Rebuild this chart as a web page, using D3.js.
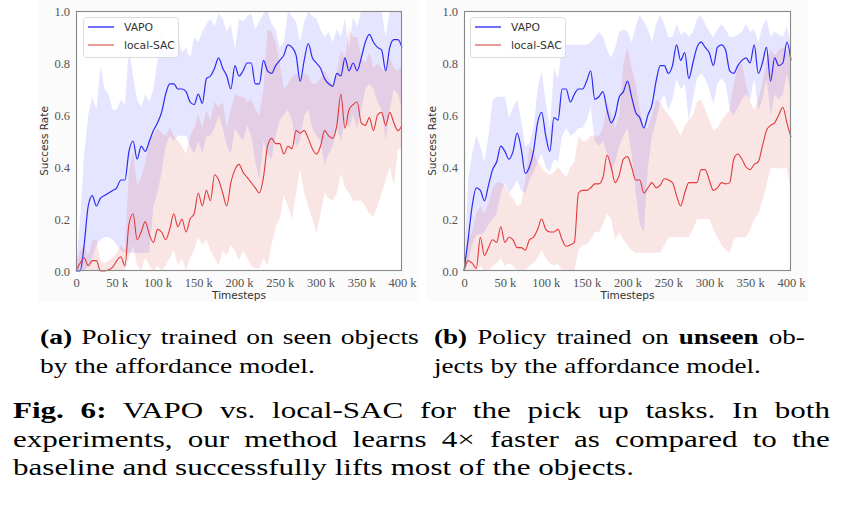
<!DOCTYPE html>
<html>
<head>
<meta charset="utf-8">
<script src="https://cdn.jsdelivr.net/npm/d3@7/dist/d3.min.js"></script>
<style>
  body { margin: 0; background: white; }
  svg { display: block; }
</style>
</head>
<body>
<div id="vis"></div>
<script>
// values, timesteps in thousands

let timesteps = [0, 5, 10, 15, 20, 25, 30, 35, 40, 45,
  50, 55, 60, 65, 70, 75, 80, 85, 90, 95,
  100, 105, 110, 115, 120, 125, 130, 135, 140, 145,
  150, 155, 160, 165, 170, 175, 180, 185, 190, 195,
  200, 205, 210, 215, 220, 225, 230, 235, 240, 245,
  250, 255, 260, 265, 270, 275, 280, 285, 290, 295,
  300, 305, 310, 315, 320, 325, 330, 335, 340, 345,
  350, 355, 360, 365, 370, 375, 380, 385, 390, 395,
  400];

// (a) seen objects
let vapoSeen = [0, 0, 0.10, 0.25, 0.29, 0.25, 0.28, 0.29, 0.30, 0.31,
  0.32, 0.35, 0.35, 0.46, 0.50, 0.43, 0.48, 0.46, 0.50, 0.54,
  0.57, 0.61, 0.68, 0.72, 0.72, 0.70, 0.70, 0.69, 0.65, 0.64,
  0.68, 0.645, 0.74, 0.75, 0.78, 0.82, 0.78, 0.75, 0.70, 0.79,
  0.75, 0.77, 0.80, 0.80, 0.72, 0.72, 0.81, 0.77, 0.76, 0.79,
  0.81, 0.83, 0.87, 0.86, 0.83, 0.73, 0.81, 0.875, 0.82, 0.80,
  0.78, 0.74, 0.72, 0.71, 0.76, 0.75, 0.82, 0.77, 0.80, 0.77,
  0.82, 0.88, 0.91, 0.88, 0.86, 0.85, 0.77, 0.86, 0.89, 0.89,
  0.86];
let vapoSeenLow = [0, 0, 0, 0.02, 0.05, 0.10, 0.12, 0.13, 0.13, 0.12,
  0.10, 0.08, 0.07, 0.07, 0.07, 0.07, 0.07, 0.07, 0.07, 0.25,
  0.30, 0.38, 0.48, 0.52, 0.50, 0.52, 0.52, 0.52, 0.48, 0.45,
  0.50, 0.45, 0.52, 0.52, 0.55, 0.60, 0.55, 0.48, 0.45, 0.55,
  0.52, 0.50, 0.56, 0.52, 0.42, 0.35, 0.50, 0.45, 0.43, 0.52,
  0.58, 0.60, 0.62, 0.58, 0.48, 0.50, 0.60, 0.62, 0.55, 0.52,
  0.50, 0.41, 0.45, 0.48, 0.55, 0.50, 0.58, 0.55, 0.60, 0.55,
  0.62, 0.70, 0.72, 0.70, 0.65, 0.62, 0.50, 0.62, 0.70, 0.68,
  0.62];
let vapoSeenHigh = [0, 0.20, 0.45, 0.60, 0.67, 0.62, 0.79, 0.70, 0.68, 0.62,
  0.62, 0.66, 0.64, 0.86, 0.75, 0.66, 0.63, 0.68, 0.65, 0.70,
  0.81, 0.93, 0.85, 0.84, 0.88, 0.90, 0.84, 0.86, 0.82, 0.90,
  0.88, 0.92, 0.95, 0.97, 0.94, 0.99, 0.97, 0.92, 0.95, 0.85,
  0.97, 0.96, 0.98, 0.99, 0.93, 0.96, 0.99, 1.0, 0.95, 0.93,
  0.86, 0.88, 1.0, 0.98, 0.96, 0.88, 0.96, 1.0, 0.98, 0.97,
  0.93, 0.90, 0.92, 0.88, 0.93, 0.90, 0.97, 0.86, 0.98, 0.94,
  1.0, 1.0, 1.0, 1.0, 1.0, 1.0, 0.90, 1.0, 1.0, 1.0,
  1.0];
let sacSeen = [0, 0.03, 0.05, 0.02, 0.04, 0.04, 0.0, 0.0, 0.005, 0.015,
  0.04, 0.055, 0.02, 0.18, 0.22, 0.12, 0.15, 0.19, 0.14, 0.11,
  0.16, 0.15, 0.12, 0.16, 0.22, 0.17, 0.20, 0.15, 0.20, 0.22,
  0.30, 0.25, 0.31, 0.27, 0.37, 0.35, 0.30, 0.25, 0.34, 0.39,
  0.41, 0.38, 0.36, 0.34, 0.32, 0.30, 0.36, 0.48, 0.51, 0.49,
  0.49, 0.45, 0.48, 0.47, 0.54, 0.53, 0.54, 0.51, 0.47, 0.45,
  0.48, 0.54, 0.52, 0.51, 0.56, 0.68, 0.55, 0.62, 0.64, 0.65,
  0.57, 0.56, 0.59, 0.54, 0.60, 0.61, 0.56, 0.61, 0.57, 0.54,
  0.56];
let sacSeenLow = [0, 0, 0, 0, 0, 0, 0, 0, 0, 0,
  0, 0, 0, 0.05, 0.10, 0.02, 0, 0.05, 0.02, 0,
  0.02, 0, 0.02, 0.05, 0.08, 0.02, 0.05, 0, 0.05, 0.08,
  0.13, 0.10, 0.12, 0.08, 0.05, 0.02, 0.08, 0.06, 0.10, 0.08,
  0.04, 0.08, 0.05, 0.02, 0.01, 0.01, 0.05, 0.02, 0.10, 0.17,
  0.20, 0.29, 0.25, 0.20, 0.30, 0.39, 0.30, 0.25, 0.20, 0.145,
  0.22, 0.30, 0.28, 0.27, 0.30, 0.375, 0.32, 0.30, 0.27, 0.27,
  0.27, 0.25, 0.22, 0.21, 0.25, 0.30, 0.35, 0.40, 0.33, 0.47,
  0.47];
let sacSeenHigh = [0.03, 0.08, 0.10, 0.06, 0.12, 0.12, 0.04, 0.03, 0.04, 0.05,
  0.07, 0.10, 0.08, 0.38, 0.46, 0.33, 0.36, 0.42, 0.50, 0.52,
  0.55, 0.53, 0.52, 0.55, 0.52, 0.50, 0.48, 0.45, 0.52, 0.55,
  0.60, 0.55, 0.62, 0.58, 0.65, 0.63, 0.65, 0.55, 0.62, 0.68,
  0.67, 0.67, 0.65, 0.66, 0.62, 0.60, 0.70, 0.93, 0.92, 0.88,
  0.80, 0.70, 0.72, 0.75, 0.76, 0.74, 0.76, 0.75, 0.72, 0.72,
  0.74, 0.77, 0.74, 0.72, 0.76, 0.85, 0.82, 0.93, 0.90, 0.90,
  0.82, 0.80, 0.84, 0.78, 0.80, 0.78, 0.76, 0.82, 0.78, 0.77,
  0.79];

// (b) unseen objects
let vapoUnseen = [0, 0.12, 0.25, 0.32, 0.31, 0.27, 0.33, 0.39, 0.42, 0.48,
  0.46, 0.43, 0.46, 0.53, 0.47, 0.375, 0.40, 0.46, 0.57, 0.61,
  0.52, 0.46, 0.59, 0.58, 0.70, 0.70, 0.65, 0.68, 0.70, 0.70,
  0.73, 0.77, 0.66, 0.67, 0.69, 0.62, 0.57, 0.60, 0.67, 0.69,
  0.73, 0.67, 0.61, 0.59, 0.55, 0.60, 0.64, 0.73, 0.79, 0.79,
  0.76, 0.79, 0.87, 0.81, 0.84, 0.74, 0.80, 0.86, 0.88, 0.86,
  0.84, 0.79, 0.86, 0.87, 0.85, 0.77, 0.76, 0.79, 0.81, 0.82,
  0.80, 0.87, 0.76, 0.80, 0.86, 0.73, 0.82, 0.79, 0.80, 0.88,
  0.81];
let vapoUnseenLow = [0, 0.03, 0.10, 0.14, 0.14, 0.15, 0.18, 0.20, 0.22, 0.30,
  0.34, 0.30, 0.32, 0.35, 0.31, 0.30, 0.35, 0.38, 0.42, 0.45,
  0.40, 0.38, 0.43, 0.42, 0.52, 0.55, 0.52, 0.53, 0.55, 0.55,
  0.58, 0.63, 0.50, 0.48, 0.50, 0.45, 0.38, 0.42, 0.48, 0.52,
  0.55, 0.45, 0.30, 0.18, 0.15, 0.40, 0.52, 0.58, 0.65, 0.68,
  0.62, 0.66, 0.74, 0.70, 0.72, 0.58, 0.66, 0.74, 0.76, 0.74,
  0.70, 0.64, 0.72, 0.74, 0.72, 0.62, 0.60, 0.63, 0.66, 0.68,
  0.66, 0.74, 0.62, 0.66, 0.74, 0.60, 0.68, 0.66, 0.68, 0.76,
  0.68];
let vapoUnseenHigh = [0, 0.35, 0.45, 0.52, 0.48, 0.42, 0.52, 0.66, 0.67, 0.67,
  0.67, 0.59, 0.63, 0.66, 0.58, 0.48, 0.49, 0.55, 0.70, 0.77,
  0.65, 0.55, 0.78, 0.74, 0.87, 0.87, 0.87, 0.87, 0.87, 0.87,
  0.87, 0.88, 0.90, 0.92, 0.90, 0.85, 0.82, 0.86, 0.92, 0.93,
  0.92, 0.88, 0.94, 0.985, 0.96, 0.93, 0.88, 0.95, 0.985, 0.95,
  0.90, 0.90, 0.95, 0.91, 0.92, 0.90, 0.92, 0.97, 0.985, 0.95,
  0.92, 0.90, 0.93, 0.95, 0.93, 0.90, 0.90, 0.91, 0.92, 0.95,
  0.92, 0.93, 0.88, 0.94, 0.97, 0.90, 0.92, 0.91, 0.90, 0.94,
  0.87];
let sacUnseen = [0, 0.04, 0.03, 0.01, 0.13, 0.06, 0.09, 0.12, 0.11, 0.17,
  0.11, 0.13, 0.12, 0.09, 0.09, 0.08, 0.12, 0.13, 0.16, 0.20,
  0.16, 0.15, 0.15, 0.16, 0.12, 0.095, 0.10, 0.11, 0.30, 0.31,
  0.31, 0.32, 0.335, 0.335, 0.36, 0.445, 0.40, 0.34, 0.37, 0.43,
  0.44, 0.40, 0.35, 0.35, 0.30, 0.32, 0.34, 0.32, 0.33, 0.355,
  0.35, 0.34, 0.29, 0.25, 0.30, 0.34, 0.34, 0.34, 0.39, 0.39,
  0.35, 0.31, 0.32, 0.34, 0.335, 0.34, 0.43, 0.45, 0.43, 0.40,
  0.39, 0.41, 0.42, 0.48, 0.54, 0.56, 0.57, 0.60, 0.63, 0.57,
  0.515];
let sacUnseenLow = [0, 0, 0, 0, 0.02, 0, 0, 0.02, 0.03, 0.05,
  0.02, 0.03, 0.02, 0, 0, 0, 0.02, 0.03, 0.05, 0.08,
  0.05, 0.03, 0.02, 0.03, 0, 0, 0, 0, 0.08, 0.10,
  0.10, 0.12, 0.15, 0.15, 0.18, 0.22, 0.20, 0.12, 0.15, 0.12,
  0.10, 0.08, 0.07, 0.07, 0.07, 0.07, 0.07, 0.07, 0.07, 0.10,
  0.13, 0.13, 0.13, 0.13, 0.13, 0.13, 0.16, 0.20, 0.20, 0.20,
  0.20, 0.16, 0.13, 0.10, 0.08, 0.07, 0.12, 0.13, 0.13, 0.13,
  0.16, 0.20, 0.22, 0.27, 0.33, 0.395, 0.395, 0.395, 0.395, 0.395,
  0.30];
let sacUnseenHigh = [0.02, 0.12, 0.15, 0.22, 0.25, 0.22, 0.26, 0.32, 0.34, 0.34,
  0.33, 0.30, 0.28, 0.25, 0.26, 0.35, 0.48, 0.46, 0.42, 0.40,
  0.38, 0.37, 0.38, 0.40, 0.38, 0.36, 0.40, 0.42, 0.52, 0.50,
  0.50, 0.52, 0.52, 0.52, 0.55, 0.65, 0.60, 0.55, 0.60, 0.80,
  0.86, 0.78, 0.72, 0.62, 0.55, 0.55, 0.60, 0.66, 0.65, 0.62,
  0.60, 0.58, 0.55, 0.52, 0.56, 0.58, 0.60, 0.65, 0.66, 0.62,
  0.58, 0.54, 0.55, 0.58, 0.60, 0.62, 0.72, 0.78, 0.80, 0.72,
  0.65, 0.62, 0.66, 0.72, 0.81, 0.85, 0.83, 0.85, 0.86, 0.85,
  0.83];

let seriesNames = ['VAPO', 'local-SAC'];
let yTicks = [0, 0.2, 0.4, 0.6, 0.8, 1.0];
let yTickLabels = ['0.0', '0.2', '0.4', '0.6', '0.8', '1.0'];
let xTicks = [0, 50, 100, 150, 200, 250, 300, 350, 400];
let xTickLabels = ['0', '50 k', '100 k', '150 k', '200 k', '250 k', '300 k', '350 k', '400 k'];

let blue = '#2b2bf4', red = '#e0393b';

let svg = d3.select('#vis')
  .append('svg')
  .attr('width', 846)
  .attr('height', 507)
  .style('background-color', 'white');

let panels = [
  { left: 76, right: 402, bgLeft: 38, bgRight: 420, legendX: 83,
    vapo: vapoSeen, vapoLow: vapoSeenLow, vapoHigh: vapoSeenHigh,
    sac: sacSeen, sacLow: sacSeenLow, sacHigh: sacSeenHigh },
  { left: 464, right: 791, bgLeft: 427, bgRight: 808, legendX: 470,
    vapo: vapoUnseen, vapoLow: vapoUnseenLow, vapoHigh: vapoUnseenHigh,
    sac: sacUnseen, sacLow: sacUnseenLow, sacHigh: sacUnseenHigh }
];

let plotTop = 11, plotBottom = 271;

panels.forEach(function(p) {
  let x = d3.scaleLinear().domain([0, 400]).range([p.left, p.right]);
  let y = d3.scaleLinear().domain([0, 1]).range([plotBottom, plotTop]);

  // faint figure background
  svg.append('rect')
    .attr('x', p.bgLeft).attr('y', 0)
    .attr('width', p.bgRight - p.bgLeft).attr('height', 302)
    .attr('fill', '#fbfbfb');

  svg.append('rect')
    .attr('x', p.left).attr('y', plotTop)
    .attr('width', p.right - p.left).attr('height', plotBottom - plotTop)
    .attr('fill', 'white');

  let band = (lo, hi) => d3.area()
    .x((d, i) => x(timesteps[i]))
    .y0((d, i) => y(lo[i]))
    .y1((d, i) => y(hi[i]));

  let line = d3.line()
    .x((d, i) => x(timesteps[i]))
    .y(d => y(d))
    .curve(d3.curveMonotoneX);

  svg.append('path')
    .datum(timesteps)
    .attr('d', band(p.vapoLow, p.vapoHigh))
    .attr('fill', 'blue')
    .attr('fill-opacity', 0.1);

  svg.append('path')
    .datum(timesteps)
    .attr('d', band(p.sacLow, p.sacHigh))
    .attr('fill', '#d62728')
    .attr('fill-opacity', 0.12);

  svg.append('path')
    .datum(p.vapo)
    .attr('d', line)
    .attr('fill', 'none')
    .attr('stroke', blue)
    .attr('stroke-width', 1.2);

  svg.append('path')
    .datum(p.sac)
    .attr('d', line)
    .attr('fill', 'none')
    .attr('stroke', red)
    .attr('stroke-width', 1.1);

  // frame
  svg.append('rect')
    .attr('x', p.left + 0.5).attr('y', plotTop + 0.5)
    .attr('width', p.right - p.left - 1).attr('height', plotBottom - plotTop - 1)
    .attr('fill', 'none')
    .attr('stroke', '#888')
    .attr('stroke-width', 1.1);

  // axes
  let yAxis = svg.append('g')
    .attr('transform', 'translate(' + p.left + ',0)')
    .call(d3.axisLeft(y).tickValues(yTicks)
      .tickFormat((d, i) => yTickLabels[i]).tickSize(0).tickPadding(6));
  let xAxis = svg.append('g')
    .attr('transform', 'translate(0,' + plotBottom + ')')
    .call(d3.axisBottom(x).tickValues(xTicks)
      .tickFormat((d, i) => xTickLabels[i]).tickSize(0).tickPadding(7));
  [yAxis, xAxis].forEach(function(a) {
    a.select('.domain').remove();
    a.selectAll('text')
      .attr('fill', '#555')
      .style('font-family', '"Liberation Serif", serif')
      .style('font-size', '12.5px');
  });

  svg.append('text')
    .attr('transform', 'translate(' + (p.left - 28) + ',' + ((plotTop + plotBottom) / 2) + ') rotate(-90)')
    .attr('text-anchor', 'middle')
    .attr('fill', '#333')
    .style('font-family', '"DejaVu Sans", sans-serif')
    .style('font-size', '10.5px')
    .text('Success Rate');

  svg.append('text')
    .attr('x', (p.left + p.right) / 2)
    .attr('y', 299)
    .attr('text-anchor', 'middle')
    .attr('fill', '#333')
    .style('font-family', '"DejaVu Sans", sans-serif')
    .style('font-size', '10.5px')
    .text('Timesteps');

  // legend
  let lg = svg.append('g').attr('transform', 'translate(' + p.legendX + ',17)');
  lg.append('rect')
    .attr('x', 0.5).attr('y', 0.5)
    .attr('width', 95).attr('height', 40)
    .attr('rx', 3)
    .attr('fill', 'white')
    .attr('fill-opacity', 0.85)
    .attr('stroke', '#dcdcdc');
  let legendColors = ['#7070fb', '#e89a98'];
  seriesNames.forEach(function(name, i) {
    lg.append('line')
      .attr('x1', 5).attr('x2', 31)
      .attr('y1', 10 + i * 18).attr('y2', 10 + i * 18)
      .attr('stroke', legendColors[i])
      .attr('stroke-width', 2);
    lg.append('text')
      .attr('x', 41).attr('y', 14 + i * 18)
      .attr('fill', '#333')
      .style('font-family', '"DejaVu Sans", sans-serif')
      .style('font-size', '10.8px')
      .text(name);
  });
});

// captions, set in a serif face and stretched sideways like the picture
function paragraph(x0, fontSize, lines) {
  let els = lines.map(function(l) {
    let t = svg.append('text')
      .attr('fill', '#000')
      .style('font-family', '"Liberation Serif", "Times New Roman", serif')
      .style('font-size', fontSize + 'px')
      .style('white-space', 'pre');
    l.parts.forEach(function(part) {
      t.append('tspan')
        .style('font-weight', part[1] ? 'bold' : 'normal')
        .text(part[0]);
    });
    return t;
  });
  let last = lines.length - 1;
  let sx = lines[last].width / els[last].node().getComputedTextLength();
  lines.forEach(function(l, i) {
    let t = els[i];
    if (l.justify) {
      let natural = t.node().getComputedTextLength();
      let spaces = l.parts.map(p => p[0]).join('').split(' ').length - 1;
      t.attr('word-spacing', (l.width / sx - natural) / spaces);
    }
    t.attr('transform', 'translate(' + x0 + ',' + l.y + ') scale(' + sx + ',1)');
  });
}

paragraph(40, 22, [
  { parts: [['(a)', true], [' Policy trained on seen objects', false]], y: 344, width: 379, justify: true },
  { parts: [['by the affordance model.', false]], y: 373, width: 275 }
]);

paragraph(434, 22, [
  { parts: [['(b)', true], [' Policy trained on ', false], ['unseen', true], [' ob-', false]], y: 344, width: 371, justify: true },
  { parts: [['jects by the affordance model.', false]], y: 373, width: 327 }
]);

paragraph(13, 24, [
  { parts: [['Fig. 6:', true], [' VAPO vs. local-SAC for the pick up tasks. In both', false]], y: 418, width: 817, justify: true },
  { parts: [['experiments, our method learns 4\u00d7 faster as compared to the', false]], y: 447, width: 817, justify: true },
  { parts: [['baseline and successfully lifts most of the objects.', false]], y: 475, width: 621 }
]);
</script>
</body>
</html>
